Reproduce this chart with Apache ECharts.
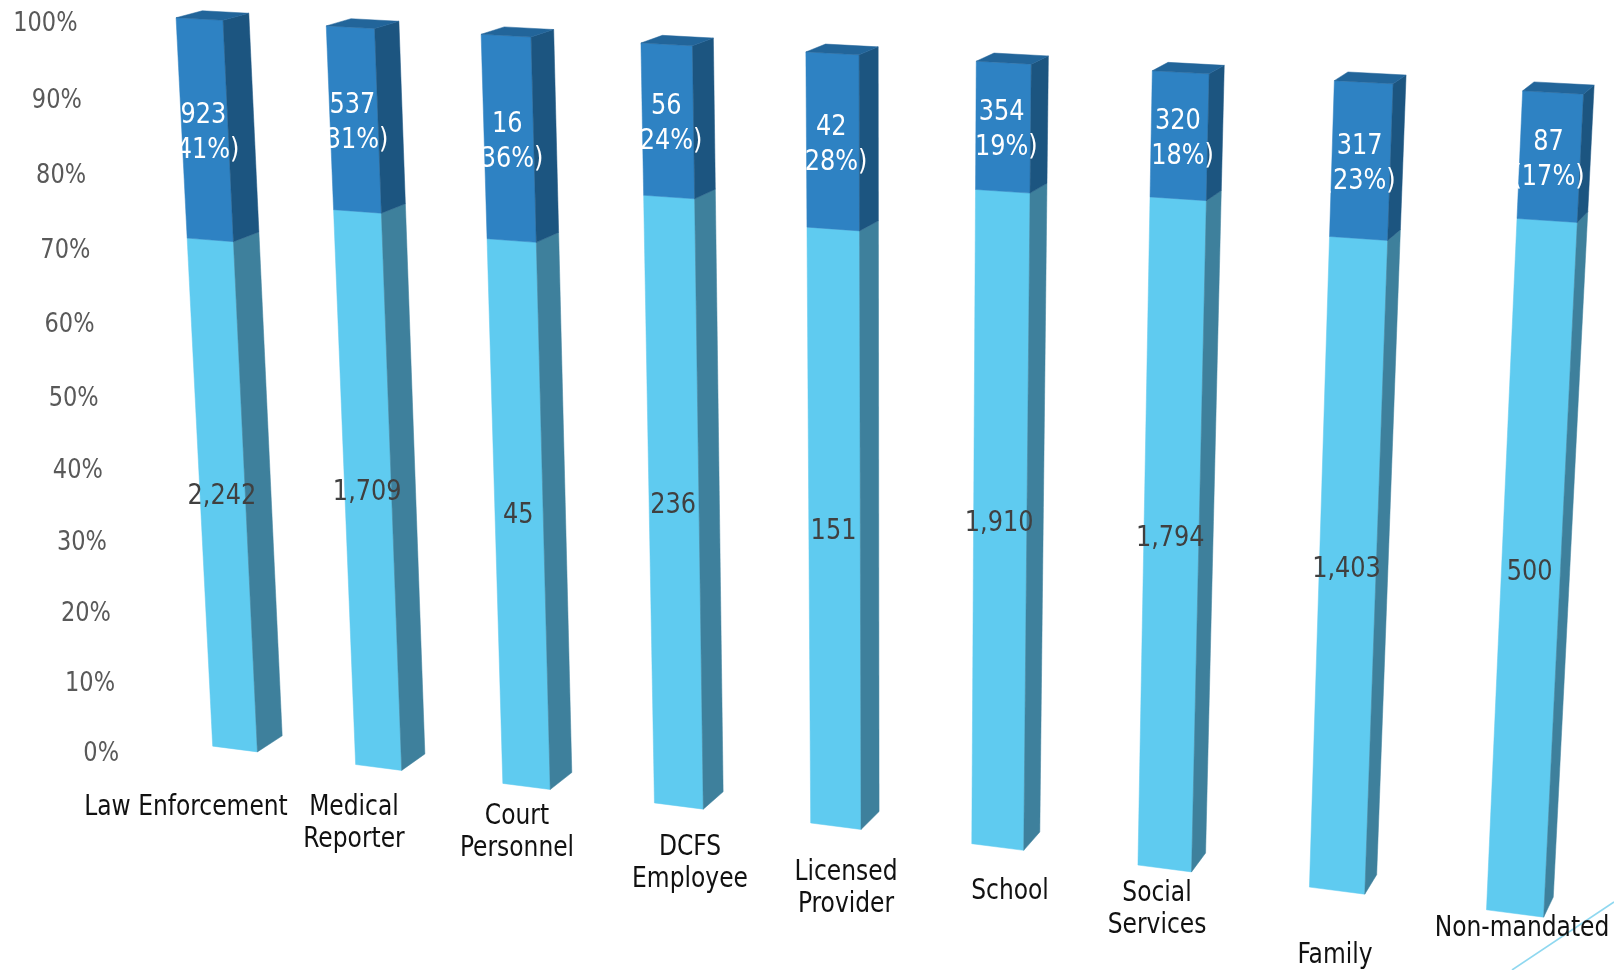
<!DOCTYPE html>
<html>
<head>
<meta charset="utf-8">
<title>Reports by source</title>
<style>html,body{margin:0;padding:0;background:#fff}#chart{width:1614px;height:970px}</style>
<script src="https://cdn.jsdelivr.net/npm/echarts@6/dist/echarts.min.js"></script>
</head>
<body>
<div id="chart"></div>
<script>
// Report counts per source, drawn as 100% stacked columns seen in perspective.
const categories = ['Law Enforcement', 'Medical\nReporter', 'Court\nPersonnel', 'DCFS\nEmployee',
  'Licensed\nProvider', 'School', 'Social\nServices', 'Family', 'Non-mandated'];
const lowerCounts = [2242, 1709, 45, 236, 151, 1910, 1794, 1403, 500];
const upperCounts = [923, 537, 16, 56, 42, 354, 320, 317, 87];
const upperPercentLabels = ['41%', '31%', '36%', '24%', '28%', '19%', '18%', '23%', '17%'];
const percentTicks = [0, 10, 20, 30, 40, 50, 60, 70, 80, 90, 100];

// Camera: where the corners of the column fronts and backs land on screen
// (first column base, last column base, last column top, first column top).
const FRONT_PLANE = [[235, 749], [1515, 913.5], [1553, 92.5], [199.5, 19]];
const BACK_PLANE = [[260, 733], [1525, 893.5], [1564, 83.5], [225.5, 12]];
const HALF_BAR = 0.158;

// Centres of the category captions on the page.
const CAPTION_ANCHORS = [[186, 808], [354, 824], [517, 833], [690, 864], [846, 889],
  [1010, 892], [1157, 910], [1335, 956], [1522, 929]];

const FONT = '"DejaVu Sans Condensed", "DejaVu Sans", sans-serif';
const STRETCH = 1.08;
const COLORS = {
  upper: {front: '#2e82c3', side: '#1c5580', top: '#22659a'},
  lower: {front: '#5fcbf0', side: '#3e809c'}
};

// Unit square to quadrilateral mapping (perspective warp).
function planeMap(q) {
  const [[x0, y0], [x1, y1], [x2, y2], [x3, y3]] = q;
  const dx1 = x1 - x2, dx2 = x3 - x2, sx = x0 - x1 + x2 - x3;
  const dy1 = y1 - y2, dy2 = y3 - y2, sy = y0 - y1 + y2 - y3;
  const det = dx1 * dy2 - dx2 * dy1;
  const g = (sx * dy2 - dx2 * sy) / det, h = (dx1 * sy - sx * dy1) / det;
  const a = x1 - x0 + g * x1, b = x3 - x0 + h * x3;
  const d = y1 - y0 + g * y1, e = y3 - y0 + h * y3;
  return (u, v) => {
    const w = g * u + h * v + 1;
    return [(a * u + b * v + x0) / w, (d * u + e * v + y0) / w];
  };
}
const frontMap = planeMap(FRONT_PLANE);
const backMap = planeMap(BACK_PLANE);

// Takes chart-space category/value through the axes, then through the camera.
function projector(api) {
  const o = api.coord([0, 0]), c = api.coord([8, 100]);
  const unit = (c[0] - o[0]) / 8;
  const toUV = (i, value) => {
    const slot = Math.round(i);
    const p = api.coord([slot, value]);
    return [(p[0] + (i - slot) * unit - o[0]) / (c[0] - o[0]), (p[1] - o[1]) / (c[1] - o[1])];
  };
  return {
    front: (i, value) => { const [u, v] = toUV(i, value); return frontMap(u, v); },
    back: (i, value) => { const [u, v] = toUV(i, value); return backMap(u, v); }
  };
}

function poly(points, fill) {
  return {type: 'polygon', shape: {points}, style: {fill, stroke: fill, lineWidth: 0.5}, silent: true};
}

function textEl(x, y, text, size, lineHeight, opts) {
  return {
    type: 'text', x, y, scaleY: STRETCH, silent: true, z2: 10,
    style: Object.assign({
      text, font: size + 'px ' + FONT, align: 'center', verticalAlign: 'middle', lineHeight
    }, opts)
  };
}

function segmentItem(palette, hasTop, labelColor, labelShiftX, labelShiftY) {
  return (params, api) => {
    const p = projector(api);
    const i = api.value(0), from = api.value(1), to = api.value(2);
    const l = i - HALF_BAR, r = i + HALF_BAR;
    const children = [
      poly([p.front(l, from), p.front(r, from), p.front(r, to), p.front(l, to)], palette.front),
      poly([p.front(r, from), p.back(r, from), p.back(r, to), p.front(r, to)], palette.side)
    ];
    if (hasTop) {
      children.push(poly([p.front(l, to), p.front(r, to), p.back(r, to), p.back(l, to)], palette.top));
    }
    const mid = p.front(i, (from + to) / 2);
    children.push(textEl(mid[0] + labelShiftX, mid[1] + labelShiftY,
      segmentLabels[hasTop ? 1 : 0][i], 26.7, 32.4, {fill: labelColor}));
    return {type: 'group', children};
  };
}

const count = n => n.toLocaleString('en-US');
const segmentLabels = [
  lowerCounts.map(count),
  upperCounts.map((n, i) => count(n) + '\n(' + upperPercentLabels[i] + ')')
];
const lowerShare = lowerCounts.map((n, i) => n / (n + upperCounts[i]) * 100);
const lowerData = lowerShare.map((s, i) => [i, 0, s]);
const upperData = lowerShare.map((s, i) => [i, s, 100]);

const chart = echarts.init(document.getElementById('chart'), null, {renderer: 'canvas'});
chart.setOption({
  animation: false,
  backgroundColor: '#ffffff',
  tooltip: {show: false},
  grid: {left: 100, right: 100, top: 100, bottom: 100},
  xAxis: {type: 'category', data: categories, show: false, boundaryGap: true},
  yAxis: {type: 'value', min: 0, max: 100, interval: 10, show: false},
  graphic: [
    {type: 'line', silent: true, shape: {x1: 1512, y1: 970, x2: 1614, y2: 902},
      style: {stroke: '#8fd8f0', lineWidth: 1.6}},
    ...categories.map((c, i) => textEl(CAPTION_ANCHORS[i][0], CAPTION_ANCHORS[i][1], c, 26, 29.6, {fill: '#111111'}))
  ],
  series: [
    {type: 'custom', coordinateSystem: 'cartesian2d', silent: true, clip: false, z: 2,
      renderItem: segmentItem(COLORS.lower, false, '#404040', -1, -3), data: lowerData},
    {type: 'custom', coordinateSystem: 'cartesian2d', silent: true, clip: false, z: 3,
      renderItem: segmentItem(COLORS.upper, true, '#ffffff', -1.5, 3), data: upperData},
    {type: 'custom', coordinateSystem: 'cartesian2d', silent: true, clip: false, z: 4,
      renderItem: (params, api) => {
        const v = api.value(0);
        const at = projector(api).front(0, v);
        return textEl(at[0] - 116 - 0.06 * v, at[1] + 5, percentTicks[params.dataIndex] + '%', 25, 30,
          {fill: '#595959', align: 'right'});
      },
      data: percentTicks.map(t => [t])
    }
  ]
});
</script>
</body>
</html>
